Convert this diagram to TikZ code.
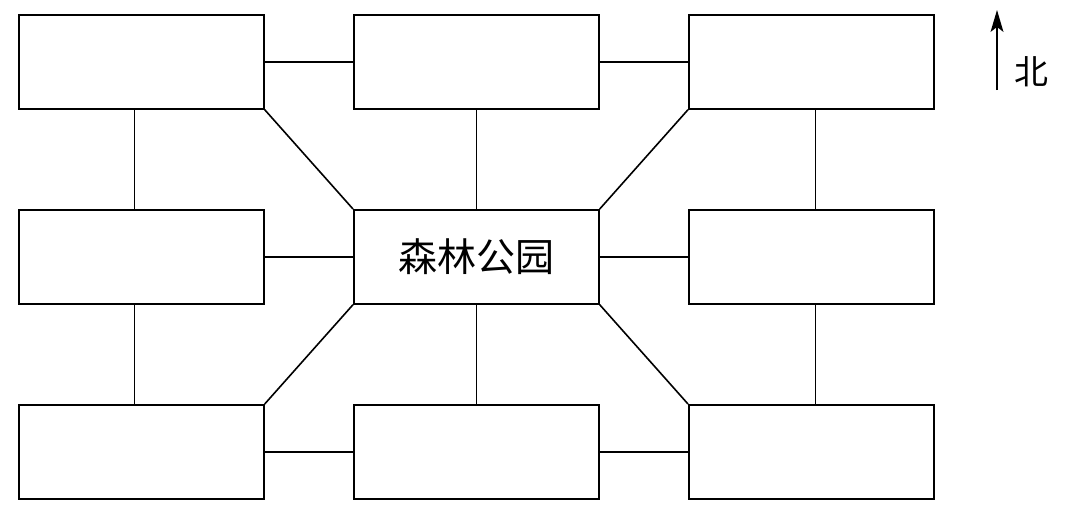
\documentclass[tikz,border=0pt]{standalone}
\usepackage{fontspec}
\newfontfamily\cjk{Noto Sans CJK SC}
\usetikzlibrary{arrows.meta}
\begin{document}
\begin{tikzpicture}[x=1pt,y=-1pt,
  blk/.style={draw,line width=1.7pt,minimum width=245pt,minimum height=94pt,inner sep=0pt,anchor=north west},
  conn/.style={line width=1.6pt}]
\useasboundingbox (0,0) rectangle (1076,507);
\node[blk] (b1) at (18,14) {};
\node[blk] (b2) at (353,14) {};
\node[blk] (b3) at (688,14) {};
\node[blk] (b4) at (18,209) {};
\node[blk,font=\cjk\fontsize{39}{44}\selectfont] (c) at (353,209) {森林公园};
\node[blk] (b6) at (688,209) {};
\node[blk] (b7) at (18,404) {};
\node[blk] (b8) at (353,404) {};
\node[blk] (b9) at (688,404) {};
% horizontals
\draw[conn] (b1.east) -- (b2.west);
\draw[conn] (b2.east) -- (b3.west);
\draw[conn] (b4.east) -- (c.west);
\draw[conn] (c.east) -- (b6.west);
\draw[conn] (b7.east) -- (b8.west);
\draw[conn] (b8.east) -- (b9.west);
% verticals
\draw[conn] ([xshift=-7pt]b1.south) -- ([xshift=-7pt]b4.north);
\draw[conn] ([xshift=-7pt]b4.south) -- ([xshift=-7pt]b7.north);
\draw[conn] (b2.south) -- (c.north);
\draw[conn] (c.south) -- (b8.north);
\draw[conn] ([xshift=4pt]b3.south) -- ([xshift=4pt]b6.north);
\draw[conn] ([xshift=4pt]b6.south) -- ([xshift=4pt]b9.north);
% diagonals
\draw[conn] (b1.south east) -- (c.north west);
\draw[conn] (b3.south west) -- (c.north east);
\draw[conn] (b7.north east) -- (c.south west);
\draw[conn] (b9.north west) -- (c.south east);
% north arrow
\coordinate (ns) at (997,90);
\coordinate (nn) at (997,10);
\draw[line width=1.7pt] (ns) -- ([yshift=-14pt]nn);
\fill (nn) -- ++(-6.5,22) -- ++(6.5,-5) -- ++(6.5,5) -- cycle;
\node[font=\cjk\fontsize{34}{38}\selectfont] (north) at (1031,72) {北};
\end{tikzpicture}
\end{document}
